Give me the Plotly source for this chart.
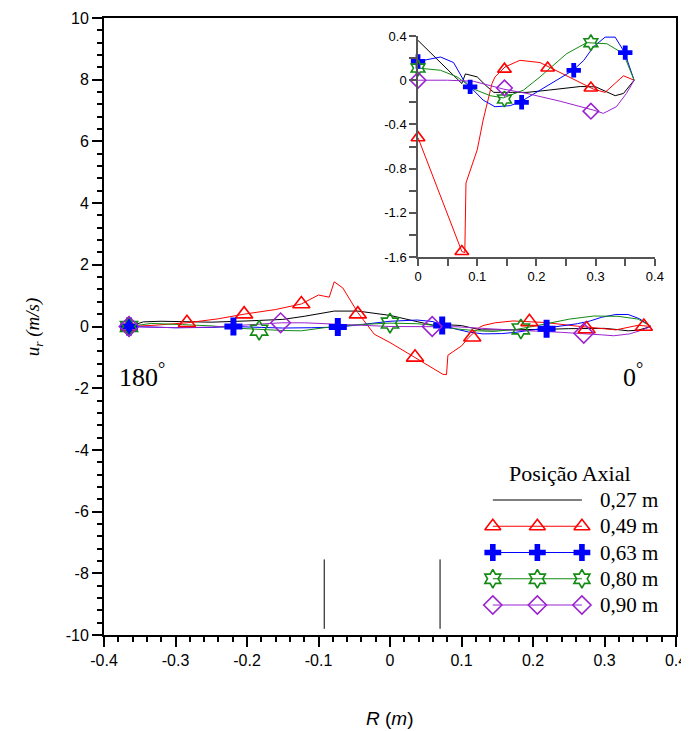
import plotly.graph_objects as go

# ---------------- data ----------------
# 0,27 m (black, no markers)
r027 = [-0.365, -0.345, -0.32, -0.29, -0.25, -0.2, -0.17, -0.15, -0.12, -0.1, -0.078, -0.045, -0.017,
        0.0, 0.03, 0.05, 0.074, 0.08, 0.1, 0.115, 0.128, 0.16, 0.184, 0.22, 0.25, 0.274, 0.3, 0.318,
        0.333, 0.347, 0.365]
u027 = [0.0, 0.15, 0.17, 0.15, 0.14, 0.18, 0.2, 0.23, 0.33, 0.42, 0.5, 0.5, 0.42,
        0.36, 0.2, 0.1, -0.03, 0.057, 0.03, -0.05, -0.11, -0.11, -0.11, -0.09, -0.07, -0.057, -0.06, -0.1,
        -0.14, -0.12, 0.0]

# 0,49 m (red)
r049 = [-0.365, -0.33, -0.284, -0.24, -0.204, -0.16, -0.124, -0.1, -0.085, -0.078, -0.066, -0.045, -0.022,
        0.0, 0.074, 0.079, 0.081, 0.1, 0.11, 0.125, 0.13, 0.147, 0.172, 0.206, 0.217, 0.262, 0.296, 0.316,
        0.347, 0.365]
u049 = [0.0, 0.04, 0.12, 0.25, 0.4, 0.55, 0.73, 1.02, 0.95, 1.45, 1.25, 0.45, -0.25,
        -0.52, -1.55, -1.56, -0.93, -0.63, -0.36, -0.03, 0.03, 0.12, 0.18, 0.16, 0.13, 0.01, -0.08, -0.11,
        0.04, 0.0]
m049_r = [-0.365, -0.284, -0.204, -0.124, -0.045, 0.035, 0.115, 0.195, 0.275, 0.355]
m049_u = [0.0, 0.12, 0.4, 0.73, 0.4, -1.0, -0.35, 0.15, -0.08, 0.0]
i049_r = [0.0, 0.074, 0.146, 0.219, 0.292]
i049_u = [-0.52, -1.55, 0.1, 0.11, -0.07]

# 0,63 m (blue)
r063 = [-0.365, -0.33, -0.3, -0.25, -0.218, -0.18, -0.15, -0.11, -0.073, -0.045, -0.02, 0.0, 0.038, 0.06,
        0.077, 0.088, 0.11, 0.13, 0.156, 0.175, 0.206, 0.235, 0.262, 0.28, 0.296, 0.316, 0.333, 0.349, 0.365]
u063 = [0.0, -0.02, -0.04, -0.03, 0.0, -0.03, -0.05, -0.04, -0.02, 0.05, 0.12, 0.17, 0.21, 0.16,
        0.0, -0.06, -0.18, -0.24, -0.23, -0.19, -0.09, 0.0, 0.09, 0.18, 0.3, 0.39, 0.39, 0.25, 0.0]
m063_r = [-0.365, -0.219, -0.073, 0.073, 0.219]
m063_u = [0.0, 0.0, -0.02, 0.03, -0.07]
i063_r = [0.0, 0.088, 0.175, 0.263, 0.35]
i063_u = [0.17, -0.06, -0.2, 0.09, 0.25]

# 0,80 m (green)
r080 = [-0.365, -0.334, -0.29, -0.25, -0.21, -0.183, -0.15, -0.124, -0.092, -0.045, -0.02, 0.0, 0.038,
        0.066, 0.094, 0.122, 0.144, 0.178, 0.206, 0.251, 0.285, 0.319, 0.347, 0.365]
u080 = [0.0, 0.1, 0.06, 0.02, -0.06, -0.1, -0.13, -0.14, -0.04, 0.06, 0.1, 0.11, 0.09,
        0.03, -0.08, -0.14, -0.16, -0.09, 0.03, 0.24, 0.34, 0.33, 0.24, 0.0]
m080_r = [-0.365, -0.183, 0.0, 0.183]
m080_u = [0.0, -0.12, 0.11, -0.08]
i080_r = [0.0, 0.146, 0.292]
i080_u = [0.11, -0.17, 0.34]

# 0,90 m (purple)
r090 = [-0.365, -0.33, -0.3, -0.25, -0.2, -0.152, -0.12, -0.09, -0.05, 0.0, 0.05, 0.094, 0.144, 0.184,
        0.24, 0.296, 0.313, 0.335, 0.352, 0.365]
u090 = [0.0, -0.02, -0.04, -0.02, 0.05, 0.12, 0.12, 0.1, 0.05, 0.0, 0.0, -0.01, -0.08, -0.12,
        -0.19, -0.27, -0.3, -0.24, -0.12, 0.0]
m090_r = [-0.365, -0.153, 0.059, 0.271]
m090_u = [0.0, 0.12, 0.0, -0.22]
i090_r = [0.0, 0.146, 0.292]
i090_u = [0.0, -0.07, -0.28]

# vertical reference lines near the bottom
ref_r = [-0.092, 0.070]
ref_u = [-9.8, -7.55]

legend_title = "Posição Axial"
legend_names = ["0,27 m", "0,49 m", "0,63 m", "0,80 m", "0,90 m"]

# tick labels (hyphen minus as in the reference)
main_x_ticks = [-0.4, -0.3, -0.2, -0.1, 0.0, 0.1, 0.2, 0.3, 0.4]
main_x_text = ["-0.4", "-0.3", "-0.2", "-0.1", "0", "0.1", "0.2", "0.3", "0.4"]
main_y_ticks = [-10, -8, -6, -4, -2, 0, 2, 4, 6, 8, 10]
main_y_text = ["-10", "-8", "-6", "-4", "-2", "0", "2", "4", "6", "8", "10"]
inset_x_ticks = [0.0, 0.1, 0.2, 0.3, 0.4]
inset_x_text = ["0", "0.1", "0.2", "0.3", "0.4"]
inset_y_ticks = [-1.6, -1.2, -0.8, -0.4, 0.0, 0.4]
inset_y_text = ["-1.6", "-1.2", "-0.8", "-0.4", "0", "0.4"]

# ---------------- figure ----------------
SERIF = "Liberation Serif"
SANS = "Liberation Sans"

series = [
    dict(name=legend_names[0], color="#000000", symbol=None, cx=r027, cy=u027,
         mx=[], my=[], ix=[], iy=[]),
    dict(name=legend_names[1], color="#FF0000", symbol="triangle-up-open", cx=r049, cy=u049,
         mx=m049_r, my=m049_u, ix=i049_r, iy=i049_u),
    dict(name=legend_names[2], color="#0000FF", symbol="cross", cx=r063, cy=u063,
         mx=m063_r, my=m063_u, ix=i063_r, iy=i063_u),
    dict(name=legend_names[3], color="#138A13", symbol="hexagram-open", cx=r080, cy=u080,
         mx=m080_r, my=m080_u, ix=i080_r, iy=i080_u),
    dict(name=legend_names[4], color="#9B22D0", symbol="diamond-open", cx=r090, cy=u090,
         mx=m090_r, my=m090_u, ix=i090_r, iy=i090_u),
]


def mline(sym):
    return 0 if sym == "cross" else 1.6


fig = go.Figure()

for s in series:
    fig.add_trace(go.Scatter(x=s["cx"], y=s["cy"], mode="lines", name=s["name"],
                             line=dict(color=s["color"], width=1), showlegend=False,
                             xaxis="x", yaxis="y", hoverinfo="skip"))
    ix_c = [x for x in s["cx"] if x >= 0]
    iy_c = [y for x, y in zip(s["cx"], s["cy"]) if x >= 0]
    fig.add_trace(go.Scatter(x=ix_c, y=iy_c, mode="lines", name=s["name"],
                             line=dict(color=s["color"], width=1), showlegend=False,
                             xaxis="x2", yaxis="y2", cliponaxis=False, hoverinfo="skip"))

for s in series:
    if s["symbol"] is None:
        continue
    fig.add_trace(go.Scatter(x=s["mx"], y=s["my"], mode="markers", name=s["name"],
                             marker=dict(symbol=s["symbol"], size=15, color=s["color"],
                                         line=dict(color=s["color"], width=mline(s["symbol"]))),
                             showlegend=False, xaxis="x", yaxis="y", cliponaxis=False))
    fig.add_trace(go.Scatter(x=s["ix"], y=s["iy"], mode="markers", name=s["name"],
                             marker=dict(symbol=s["symbol"], size=12, color=s["color"],
                                         line=dict(color=s["color"], width=mline(s["symbol"]))),
                             showlegend=False, xaxis="x2", yaxis="y2", cliponaxis=False))

# vertical reference lines
fig.add_trace(go.Scatter(x=[ref_r[0], ref_r[0], None, ref_r[1], ref_r[1]],
                         y=[ref_u[0], ref_u[1], None, ref_u[0], ref_u[1]],
                         mode="lines", line=dict(color="#000000", width=1),
                         showlegend=False, hoverinfo="skip"))

# legend drawn on its own small axis so each sample shows three markers
sample_x = [0.0, 0.5, 1.0]
for row, s in enumerate(series):
    if s["symbol"] is None:
        fig.add_trace(go.Scatter(x=sample_x, y=[row] * 3, mode="lines",
                                 line=dict(color=s["color"], width=1),
                                 xaxis="x3", yaxis="y3", showlegend=False, hoverinfo="skip",
                                 cliponaxis=False))
    else:
        fig.add_trace(go.Scatter(x=sample_x, y=[row] * 3, mode="lines+markers",
                                 line=dict(color=s["color"], width=1),
                                 marker=dict(symbol=s["symbol"], size=14, color=s["color"],
                                             line=dict(color=s["color"], width=mline(s["symbol"]))),
                                 xaxis="x3", yaxis="y3", showlegend=False, hoverinfo="skip",
                                 cliponaxis=False))
    fig.add_annotation(text=s["name"], x=1.18, y=row, xref="x3", yref="y3",
                       xanchor="left", yanchor="middle", showarrow=False,
                       font=dict(family=SERIF, size=21))
fig.add_annotation(text=legend_title, x=0.815, y=0.262, xref="paper", yref="paper",
                   xanchor="center", yanchor="middle", showarrow=False,
                   font=dict(family=SERIF, size=22))

common_tick = dict(showgrid=False, zeroline=False, automargin=False)

# the page body adds an 8px offset; size the figure so the plot lands where the reference has it
fig.update_layout(
    width=681, height=723,
    margin=dict(l=96, r=13, t=10, b=96, autoexpand=False),
    paper_bgcolor="white", plot_bgcolor="white",
    font=dict(family=SANS, size=16, color="#000"),
    showlegend=False,
    xaxis=dict(domain=[0, 1], range=[-0.4, 0.4], tickvals=main_x_ticks, ticktext=main_x_text,
               showline=True, linecolor="#000", linewidth=2, mirror=True,
               ticks="outside", ticklen=10, tickwidth=2, tickcolor="#000",
               minor=dict(dtick=0.02, tick0=0, ticks="outside", ticklen=5, tickwidth=1.5,
                          tickcolor="#000"),
               tickfont=dict(family=SANS, size=16), **common_tick),
    yaxis=dict(domain=[0, 1], range=[-10, 10], tickvals=main_y_ticks, ticktext=main_y_text,
               showline=True, linecolor="#000", linewidth=2, mirror=True,
               ticks="outside", ticklen=10, tickwidth=2, tickcolor="#000",
               minor=dict(dtick=0.4, tick0=0, ticks="outside", ticklen=5, tickwidth=1.5,
                          tickcolor="#000"),
               tickfont=dict(family=SANS, size=16), **common_tick),
    xaxis2=dict(domain=[0.549, 0.963], anchor="y2", range=[0, 0.4],
                tickvals=inset_x_ticks, ticktext=inset_x_text,
                showline=True, linecolor="#555", linewidth=1.5, ticks="outside", ticklen=7,
                tickwidth=1.5, tickcolor="#555",
                minor=dict(dtick=0.05, tick0=0, ticks="outside", ticklen=7, tickwidth=1.5,
                           tickcolor="#555"),
                tickfont=dict(family=SANS, size=13), **common_tick),
    yaxis2=dict(domain=[0.6126, 0.9708], anchor="x2", range=[-1.6, 0.4],
                tickvals=inset_y_ticks, ticktext=inset_y_text,
                showline=True, linecolor="#555", linewidth=1.5, ticks="outside", ticklen=7,
                tickwidth=1.5, tickcolor="#555",
                minor=dict(dtick=0.2, tick0=0, ticks="outside", ticklen=7, tickwidth=1.5,
                           tickcolor="#555"),
                tickfont=dict(family=SANS, size=13), **common_tick),
    xaxis3=dict(domain=[0.657, 0.867], anchor="y3", range=[-0.146, 1.202], visible=False,
                fixedrange=True),
    yaxis3=dict(domain=[0.0324, 0.235], anchor="x3", range=[4.381, -0.381], visible=False,
                fixedrange=True),
)

fig.add_annotation(text="180<sup>°</sup>", x=-0.382, y=-1.6, xref="x", yref="y",
                   xanchor="left", yanchor="middle", showarrow=False,
                   font=dict(family=SERIF, size=26))
fig.add_annotation(text="0<sup>°</sup>", x=0.323, y=-1.6, xref="x", yref="y",
                   xanchor="left", yanchor="middle", showarrow=False,
                   font=dict(family=SERIF, size=26))
fig.add_annotation(text="<i>u<sub>r</sub></i> <i>(m/s)</i>", x=-0.123, y=0.5,
                   xref="paper", yref="paper", textangle=-90, showarrow=False,
                   xanchor="center", yanchor="middle", font=dict(family=SERIF, size=19))
fig.add_annotation(text="<i>R</i> (<i>m</i>)", x=0.5, y=-0.135, xref="paper", yref="paper",
                   showarrow=False, xanchor="center", yanchor="middle",
                   font=dict(family=SANS, size=19))

fig.write_html("out.html")
